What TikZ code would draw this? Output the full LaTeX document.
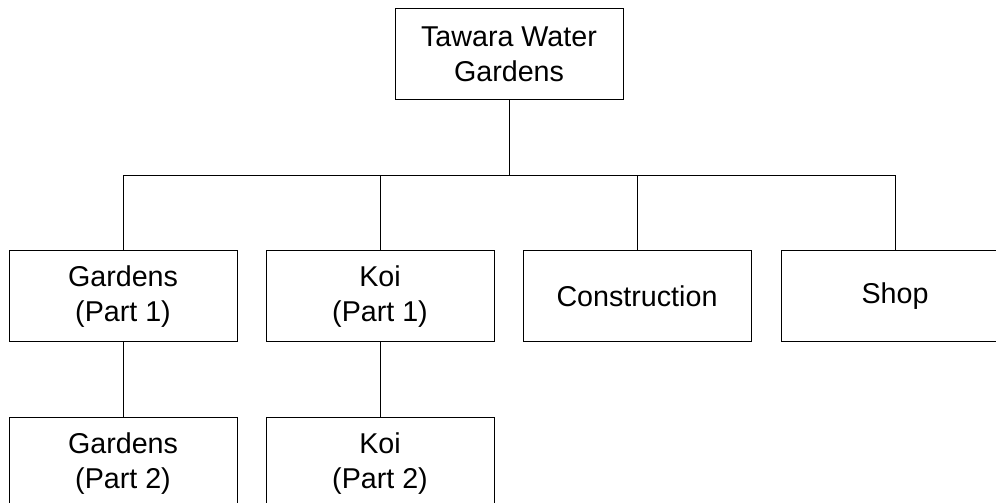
\documentclass[tikz,border=0pt]{standalone}
\usepackage{fontspec}
\setmainfont{Liberation Sans}
\usepackage{tikz}
\usetikzlibrary{positioning}
\tikzset{
  unit/.style={draw=black,fill=white,line width=0.75pt,align=center,minimum width=171pt,minimum height=68.25pt,inner sep=2pt,font=\fontsize{21.5}{26.25}\selectfont},
  link/.style={draw=black,line width=0.75pt},
}
\begin{document}
\begin{tikzpicture}[x=0.75pt,y=0.75pt]
  \clip (0,0) rectangle (996,503);
  \useasboundingbox (0,0) rectangle (996,503);
  \node[unit] (top) at (509,448.5) {Tawara Water\\Gardens};
  \node[unit] (gar1) at (123,206.5) {Gardens\\(Part 1)};
  \node[unit] (koi1) at (380,206.5) {Koi\\(Part 1)};
  \node[unit] (cons) at (637,206.5) {Construction};
  \node[unit] (shop) at (895,206.5) {Shop};
  \node[unit] (gar2) at (123,39.5) {Gardens\\(Part 2)};
  \node[unit] (koi2) at (380,39.5) {Koi\\(Part 2)};
  \coordinate (bus) at (509,327);
  % tree links
  \draw[link] (top.south) -- (bus);
  \draw[link] (gar1.north) -- (gar1.north |- bus) -- (shop.north |- bus) -- (shop.north);
  \draw[link] (koi1.north) -- (koi1.north |- bus);
  \draw[link] (cons.north) -- (cons.north |- bus);
  \draw[link] (gar1.south) -- (gar2.north);
  \draw[link] (koi1.south) -- (koi2.north);
\end{tikzpicture}
\end{document}
